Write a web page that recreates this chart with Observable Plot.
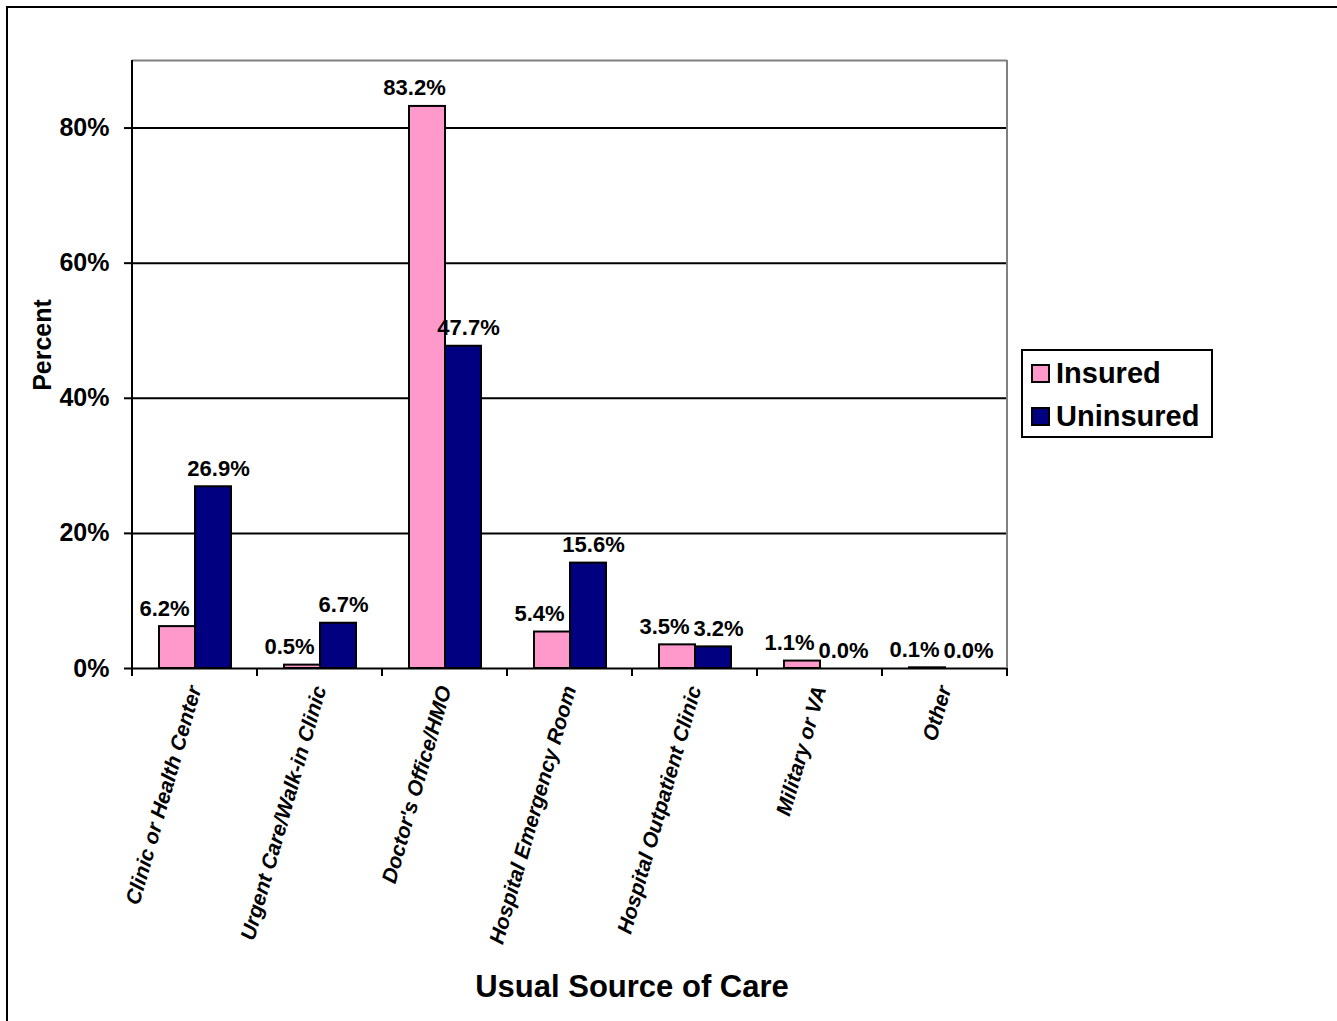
<!DOCTYPE html>
<html>
<head>
<meta charset="utf-8">
<script src="https://cdn.jsdelivr.net/npm/d3@7"></script>
<script src="https://cdn.jsdelivr.net/npm/@observablehq/plot@0.6"></script>
<style>
  html, body { margin: 0; padding: 0; background: #fff; overflow: hidden; width: 1337px; height: 1021px; }
  body { position: relative; font-family: "Liberation Sans", Arial, sans-serif; }
  #outer { position: absolute; left: 6px; top: 6px; width: 1400px; height: 1100px; border: 2px solid #000; box-sizing: border-box; }
  #chart { position: absolute; left: 0; top: 0; }
  .ylabel { position: absolute; left: 42px; top: 345px; transform: translate(-50%, -50%) rotate(-90deg); font-size: 25px; font-weight: bold; white-space: nowrap; }
  .xlabel { position: absolute; left: 632px; top: 971px; transform: translateX(-50%); font-size: 31px; font-weight: bold; white-space: nowrap; line-height: 1; }
  .legend { position: absolute; left: 1021px; top: 349px; width: 192px; height: 89px; border: 2px solid #000; box-sizing: border-box; background: #fff; }
  .legend .item { position: absolute; left: 8px; display: flex; align-items: center; font-size: 29px; font-weight: bold; line-height: 1; }
  .legend .sw { width: 15px; height: 15px; border: 2px solid #000; margin-right: 6px; }
</style>
</head>
<body>
<div id="outer"></div>
<div id="chart"></div>
<div class="ylabel">Percent</div>
<div class="xlabel">Usual Source of Care</div>
<div class="legend" id="legend"></div>
<script>
const categories = [
  "Clinic or Health Center",
  "Urgent Care/Walk-in Clinic",
  "Doctor's Office/HMO",
  "Hospital Emergency Room",
  "Hospital Outpatient Clinic",
  "Military or VA",
  "Other"
];
const seriesNames = ["Insured", "Uninsured"];
const insured = [6.2, 0.5, 83.2, 5.4, 3.5, 1.1, 0.1];
const uninsured = [26.9, 6.7, 47.7, 15.6, 3.2, 0.0, 0.0];
const seriesColors = ["#FF99CC", "#000080"];
const yTicks = [0, 20, 40, 60, 80];

const rows = [];
categories.forEach((c, i) => {
  rows.push({category: c, series: seriesNames[0], value: insured[i]});
  rows.push({category: c, series: seriesNames[1], value: uninsured[i]});
});
const labelText = d => d.value.toFixed(1) + "%";

const chart = Plot.plot({
  width: 1337,
  height: 1021,
  marginTop: 60,
  marginBottom: 353,
  marginLeft: 130,
  marginRight: 329,
  style: {fontFamily: "Liberation Sans, Arial, sans-serif", background: "transparent", overflow: "visible"},
  fx: {domain: categories, padding: 0, label: null},
  x: {domain: seriesNames, paddingInner: 0, paddingOuter: 0.727, axis: null},
  y: {domain: [0, 90], label: null},
  color: {domain: seriesNames, range: seriesColors},
  marks: [
    Plot.ruleY([20, 40, 60, 80], {stroke: "#000", strokeWidth: 2}),
    Plot.ruleY([90], {stroke: "#808080", strokeWidth: 2}),
    Plot.barY(rows, {fx: "category", x: "series", y: "value", fill: "series", stroke: "#000", strokeWidth: 2}),
    Plot.ruleY([0], {stroke: "#000", strokeWidth: 2}),
    Plot.text(rows.filter(d => d.series === seriesNames[0]), {fx: "category", x: "series", y: "value", text: labelText,
      lineAnchor: "bottom", dy: -11, dx: -13, fontSize: 22, fontWeight: "bold", fill: "#000"}),
    Plot.text(rows.filter(d => d.series === seriesNames[1]), {fx: "category", x: "series", y: "value", text: labelText,
      lineAnchor: "bottom", dy: -11, dx: 5, fontSize: 22, fontWeight: "bold", fill: "#000"}),
    Plot.axisY({ticks: yTicks, tickFormat: d => d + "%", tickSize: 8, tickPadding: 15,
      fontSize: 25, fontWeight: "bold", strokeWidth: 2, label: null}),
    Plot.axisFx({anchor: "bottom", tickRotate: -74, tickSize: 0, tickPadding: 18,
      fontSize: 21, fontWeight: "bold", fontStyle: "italic", label: null})
  ]
});
document.getElementById("chart").appendChild(chart);

// frame lines and category-boundary ticks from Plot's own scales
const fxS = chart.scale("fx");
const yS = chart.scale("y");
const y0 = yS.apply(0), yTop = yS.apply(90);
const bounds = categories.map(c => fxS.apply(c));
bounds.push(fxS.apply(categories[categories.length - 1]) + fxS.bandwidth);
const left = bounds[0], right = bounds[bounds.length - 1];
const g = d3.select(chart).append("g").attr("stroke-width", 2);
g.append("line").attr("x1", right).attr("x2", right).attr("y1", yTop).attr("y2", y0).attr("stroke", "#808080");
g.append("line").attr("x1", left).attr("x2", left).attr("y1", yTop).attr("y2", y0 + 8).attr("stroke", "#000");
g.selectAll("line.tk").data(bounds).join("line").attr("class", "tk")
  .attr("x1", d => d).attr("x2", d => d).attr("y1", y0).attr("y2", y0 + 8).attr("stroke", "#000");

// legend
const legend = document.getElementById("legend");
seriesNames.forEach((s, i) => {
  const item = document.createElement("div");
  item.className = "item";
  item.style.top = (i === 0 ? 8 : 51) + "px";
  const sw = document.createElement("div");
  sw.className = "sw";
  sw.style.background = seriesColors[i];
  item.appendChild(sw);
  item.appendChild(document.createTextNode(s));
  legend.appendChild(item);
});
</script>
</body>
</html>
